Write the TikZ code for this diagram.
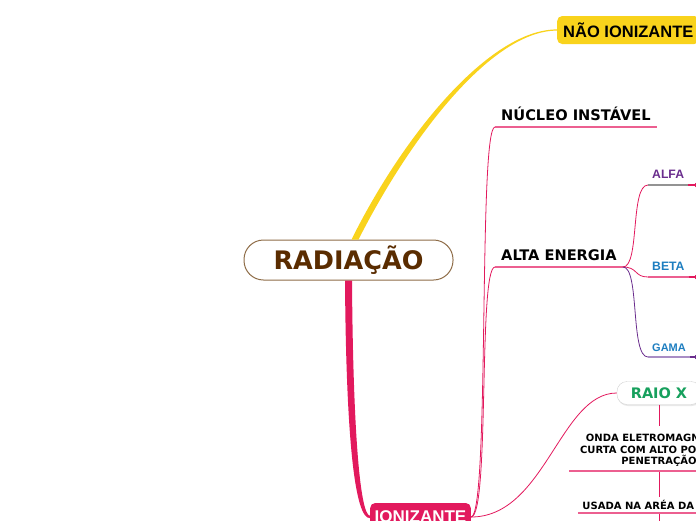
\documentclass[tikz,border=0pt]{standalone}
\usepackage{fontspec}
\newfontfamily\verdfont{DejaVu Sans}
\newfontfamily\arialfont{Liberation Sans}
\usepackage{xcolor}
\usepackage{tikz}
\usetikzlibrary{positioning, calc, shadows}
\definecolor{sunyellow}{HTML}{F9D31C}
\definecolor{rosepink}{HTML}{E2195D}
\definecolor{softpink}{HTML}{EC5F90}
\definecolor{brownink}{HTML}{5A2C00}
\definecolor{brownline}{HTML}{8E6C47}
\definecolor{grape}{HTML}{6A2D8D}
\definecolor{lavender}{HTML}{A98DC5}
\definecolor{seablue}{HTML}{1E7EC0}
\definecolor{leafgreen}{HTML}{17A05D}

\begin{document}
\begin{tikzpicture}[x=1pt, y=-1pt,
  central/.style={draw=brownline, line width=1pt, rounded corners=19.5pt, fill=white, minimum width=209pt, minimum height=40pt, text=brownink, font=\verdfont\bfseries\fontsize{25.5}{30}\selectfont},
  mainbox/.style={rounded corners=5pt, minimum height=28pt, inner xsep=6pt, anchor=west, font=\arialfont\bfseries\fontsize{16.5}{20}\selectfont},
  topic/.style={anchor=south west, inner xsep=6pt, inner ysep=6pt, text depth=0pt, font=\verdfont\bfseries\fontsize{14.6}{17}\selectfont},
  subtopic/.style={anchor=south west, inner xsep=4pt, inner ysep=6pt, text depth=0pt, font=\arialfont\bfseries\fontsize{12.2}{14}\selectfont},
  leaf/.style={anchor=south, align=center, text depth=0pt, font=\verdfont\bfseries\fontsize{10}{11.7}\selectfont},
  link/.style={rosepink, line width=0.8pt},
  underbar/.style={softpink, line width=1.2pt},
  tailmark/.style={line width=0.8pt, fill=white}
]
  \useasboundingbox (0,0) rectangle (696,520);
  \clip (0,0) rectangle (696,520);

  \node[central] (root) at (348.5,260) {RADIAÇÃO};
  \node[mainbox, fill=sunyellow] (nao) at (557,30) {NÃO IONIZANTE};
  \node[mainbox, fill=rosepink, text=white, inner xsep=4.5pt, font=\arialfont\bfseries\fontsize{17}{20}\selectfont] (ion) at (370,517) {IONIZANTE};

  \node[topic] (nucleo) at (495,127) {NÚCLEO INSTÁVEL};
  \node[topic] (alta) at (495,267) {ALTA ENERGIA};
  \node[subtopic, text=grape] (alfa) at (648,185) {ALFA};
  \node[subtopic, text=seablue] (beta) at (648,277) {BETA};
  \node[subtopic, text=seablue, inner ysep=5pt, font=\arialfont\bfseries\fontsize{11}{13}\selectfont] (gama) at (648,357) {GAMA};

  \node[draw=black!18, fill=white, rounded corners=10pt, minimum width=84pt, minimum height=23pt, drop shadow={opacity=0.18, shadow xshift=0.8pt, shadow yshift=-1.5pt}, text=leafgreen, font=\verdfont\bfseries\fontsize{14.5}{17}\selectfont] (raio) at (659,393) {RAIO X};
  \node[leaf, inner xsep=10.5pt, inner ysep=6pt] (onda) at (659,471) {ONDA ELETROMAGNÉTICA\\CURTA COM ALTO PODER DE\\PENETRAÇÃO};
  \node[leaf, inner xsep=4.5pt, inner ysep=3pt] (usada) at (659,513) {USADA NA ARÉA DA SAÚDE};

  \coordinate (next) at (659,530);
  \coordinate (alfaend) at (697,185);
  \coordinate (betaend) at (697,277);
  \coordinate (gamaend) at (697,357);

  \fill[sunyellow] ($(root.north)+(3,0)$) .. controls (404,134) and (490,29.4) .. ($(nao.west)+(0,-0.6)$) -- ($(nao.west)+(0,0.6)$) .. controls (492,30.6) and (411,136) .. ($(root.north)+(10,0)$) -- cycle;
  \fill[rosepink] ($(root.south)+(-3.5,0)$) .. controls (346,430) and (354,519) .. ($(ion.west)+(0,1.2)$) -- ($(ion.west)+(0,-1.2)$) .. controls (360,515) and (353,430) .. ($(root.south)+(3.5,0)$) -- cycle;

  \draw[link] (ion.east) .. controls (490,517) and (478,127) .. (nucleo.south west);
  \draw[link] (ion.east) .. controls (490,517) and (478,267) .. (alta.south west);
  \draw[link] (ion.east) .. controls (545,517) and (560,393) .. (raio.west);
  \draw[underbar] (nucleo.south west) -- (nucleo.south east);
  \draw[underbar] (alta.south west) -- (alta.south east);

  \draw[link] (alta.south east) .. controls (640,267) and (630,185) .. (alfa.south west);
  \draw[link] (alta.south east) .. controls (638,267) and (634,277) .. (beta.south west);
  \draw[link, grape] (alta.south east) .. controls (640,267) and (630,357) .. (gama.south west);
  \draw[gray!85, line width=1.2pt] (alfa.south west) -- (alfa.south east);
  \draw[underbar] (beta.south west) -- (beta.south east);
  \draw[lavender, line width=1.2pt] (gama.south west) -- (gama.south east);
  \draw[rosepink, line width=1.2pt] (alfa.south east) -- (alfaend);
  \draw[rosepink, line width=1.2pt] (beta.south east) -- (betaend);
  \draw[grape, line width=1.2pt] (gama.south east) -- (gamaend);
  \draw[tailmark, rosepink] (alfaend) circle (2);
  \draw[tailmark, rosepink] (betaend) circle (2);
  \draw[tailmark, grape] (gamaend) circle (2);

  \draw[link] (raio.south) -- (onda.north);
  \draw[link] (onda.south) -- (usada.north);
  \draw[link] (usada.south) -- (next);
  \draw[underbar] (onda.south west) -- (onda.south east);
  \draw[underbar] (usada.south west) -- (usada.south east);
\end{tikzpicture}
\end{document}
